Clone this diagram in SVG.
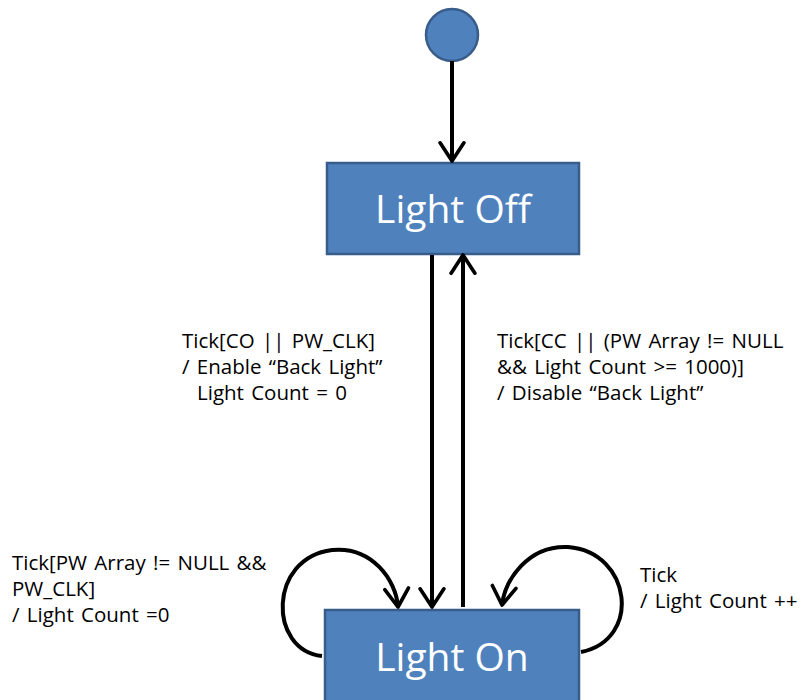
<svg xmlns="http://www.w3.org/2000/svg" width="808" height="700" viewBox="0 0 808 700">
<defs>
<style>
.node{fill:#4F81BD;stroke:#385D8A;stroke-width:2.5}
.title{font-family:"Open Sans","Noto Sans",sans-serif;font-size:39px;fill:#fff;text-anchor:middle}
.lbl{font-family:"Open Sans","Noto Sans",sans-serif;font-size:20.5px;fill:#000;word-spacing:2px}
.edge{fill:none;stroke:#000;stroke-width:4}
</style>
<marker id="arr" viewBox="0 0 20 20" refX="18" refY="10" markerWidth="7" markerHeight="7" markerUnits="strokeWidth" orient="auto">
<path d="M5,1.5 L18,10 L5,18.5" fill="none" stroke="#000" stroke-width="2.6" stroke-linecap="round" stroke-linejoin="round"/>
</marker>
</defs>
<rect width="808" height="700" fill="#fff"/>
<g id="start"><circle class="node" cx="452" cy="35" r="26"/></g>
<g id="light-off"><rect class="node" x="327" y="163" width="252" height="91"/><text class="title" x="453" y="223">Light Off</text></g>
<g id="light-on"><rect class="node" x="325" y="610" width="254" height="100"/><text class="title" x="452" y="671">Light On</text></g>
<g id="connectors">
<path class="edge" d="M452,61 L452,161" marker-end="url(#arr)"/>
<path class="edge" d="M432,255 L432,607" marker-end="url(#arr)"/>
<path class="edge" d="M463,607 L463,255" marker-end="url(#arr)"/>
<path class="edge" d="M322,656 C268,650 268,558 332,550 C372,546 396,580 398,607" marker-end="url(#arr)"/>
<path class="edge" d="M581,652 C642,640 632,552 568,547 C528,545 505,580 502,605" marker-end="url(#arr)"/>
</g>
<g id="labels">
<text class="lbl" x="182" y="348"><tspan x="182" y="348">Tick[CO || PW_CLK]</tspan><tspan x="182" y="374">/ Enable “Back Light”</tspan><tspan x="197" y="400">Light Count = 0</tspan></text>
<text class="lbl" x="497" y="348"><tspan x="497" y="348">Tick[CC || (PW Array != NULL</tspan><tspan x="497" y="374">&amp;&amp; Light Count  &gt;= 1000)]</tspan><tspan x="497" y="400">/ Disable “Back Light”</tspan></text>
<text class="lbl" x="12" y="570"><tspan x="12" y="570">Tick[PW Array != NULL &amp;&amp;</tspan><tspan x="12" y="596">PW_CLK]</tspan><tspan x="12" y="622">/ Light Count =0</tspan></text>
<text class="lbl" x="640" y="582"><tspan x="640" y="582">Tick</tspan><tspan x="640" y="608">/ Light Count ++</tspan></text>
</g>
</svg>
